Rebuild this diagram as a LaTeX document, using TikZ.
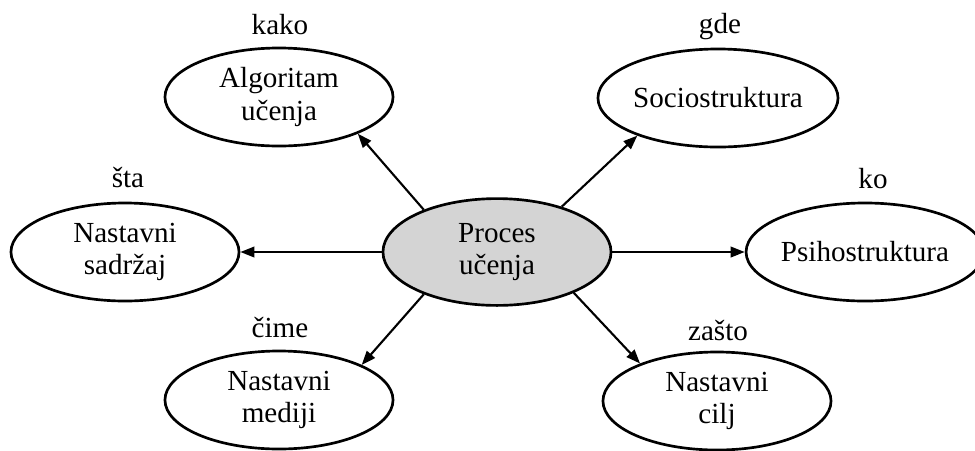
\documentclass[tikz,border=0pt]{standalone}
\usepackage{fontspec}
\setmainfont{Liberation Serif}
\usetikzlibrary{arrows.meta,shapes.geometric}
\tikzset{
    %Define standard arrow tip
    >={Triangle[length=10pt,width=7.5pt]},
    %Define style for ellipses
    topic/.style={
           ellipse,
           draw=black, line width=1.9pt,
           minimum width=5.7cm,
           minimum height=2.45cm,
           inner sep=0pt,
           align=center,
           font=\fontsize{20.7}{23}\selectfont,
           fill=white},
    core/.style={
           topic,
           minimum height=2.67cm,
           fill=black!17},
    question/.style={
           anchor=base,
           font=\fontsize{20.7}{23}\selectfont},
    % Define arrow style
    pil/.style={
           ->,
           line width=1.5pt}
}
\begin{document}
\begin{tikzpicture}[x=0.025cm,y=-0.025cm]
\useasboundingbox (0,0) rectangle (975,450);
 %nodes
\node[core](proc) at (497,252){Proces\\učenja};
\node[topic](algo) at (279,97){Algoritam\\učenja};
\node[topic](socio) at (718,98){Sociostruktura};
\node[topic](sadr) at (125,252){Nastavni\\sadržaj};
\node[topic, minimum width=5.5cm](psiho) at (865,252){Psihostruktura};
\node[topic](medij) at (279,400){Nastavni\\mediji};
\node[topic](cilj) at (717,401){Nastavni\\cilj};
 %questions
\node[question](kako) at (280,34){kako};
\node[question](gde) at (720,33){gde};
\node[question](sta) at (128,187){šta};
\node[question](ko) at (873,188){ko};
\node[question](cime) at (280,337){čime};
\node[question](zasto) at (718,340){zašto};
 %arrows
 \path[pil]
    (proc.150.8) edge (algo.-25.7)
    (proc.35.9) edge (socio.-155.6)
    (proc.180) edge (sadr.0)
    (proc.0) edge (psiho.180)
    (proc.-150) edge (medij.23.4)
    (proc.-28.3) edge (cilj.154.4);
\end{tikzpicture}
\end{document}
